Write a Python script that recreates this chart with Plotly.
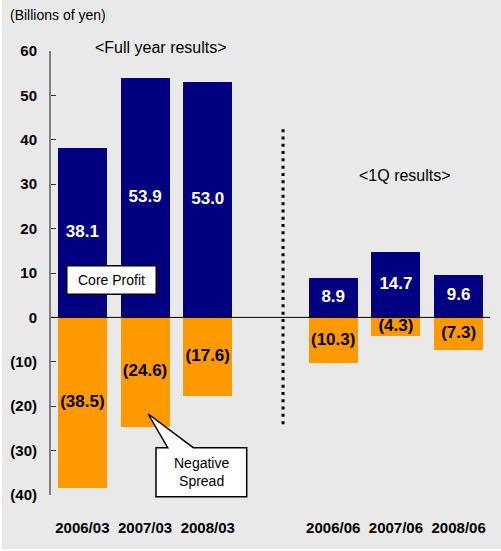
import plotly.graph_objects as go

# Categories and values (billions of yen)
periods = ["2006/03", "2007/03", "2008/03", "2006/06", "2007/06", "2008/06"]
x_pos = [0, 1, 2, 4, 5, 6]
core_profit = [38.1, 53.9, 53.0, 8.9, 14.7, 9.6]
negative_spread = [-38.5, -24.6, -17.6, -10.3, -4.3, -7.3]
y_ticks = [60, 50, 40, 30, 20, 10, 0, -10, -20, -30, -40]
y_tick_text = ["60", "50", "40", "30", "20", "10", "0", "(10)", "(20)", "(30)", "(40)"]

NAVY = "#000080"
ORANGE = "#FF9900"
BG = "#E9E9E9"
FONT = "Arial, Liberation Sans, sans-serif"

W, H = 501, 551
ML, MR, MT, MB = 51, 11, 51, 56
PW, PH = W - ML - MR, H - MT - MB


def px_x(px):
    return (px - ML) / PW


def px_y(py):
    return (H - MB - py) / PH


def fmt(v):
    return f"({abs(v):.1f})" if v < 0 else f"{v:.1f}"


fig = go.Figure()
fig.add_trace(go.Bar(x=x_pos, y=core_profit, width=0.78, marker_color=NAVY,
                     marker_line_width=0, name="Core Profit"))
fig.add_trace(go.Bar(x=x_pos, y=negative_spread, width=0.78, marker_color=ORANGE,
                     marker_line_width=0, name="Negative Spread"))

# value labels centred in each bar
fig.add_trace(go.Scatter(x=x_pos, y=[v / 2 for v in core_profit], mode="text",
                         text=[fmt(v) for v in core_profit],
                         textfont=dict(family=FONT, size=17, color="white", weight="bold"),
                         hoverinfo="skip"))
fig.add_trace(go.Scatter(x=x_pos, y=[v / 2 for v in negative_spread], mode="text",
                         text=[fmt(v) for v in negative_spread],
                         textfont=dict(family=FONT, size=17, color="black", weight="bold"),
                         hoverinfo="skip"))

shapes = [
    # page background
    dict(type="rect", xref="paper", yref="paper", layer="below",
         x0=px_x(2), x1=px_x(W), y0=px_y(549), y1=px_y(0),
         fillcolor=BG, line_width=0),
    # zero line
    dict(type="line", xref="x", yref="y", x0=-0.5, x1=6.5, y0=0, y1=0,
         line=dict(color="black", width=1)),
    # separator between annual and quarterly results
    dict(type="line", xref="x", yref="y", x0=3.2, x1=3.2, y0=42.4, y1=-24.5,
         line=dict(color="black", width=3, dash="3px,4.3px")),
]

# callout box for "Negative Spread"
pts = [(148.3, 414), (193.3, 447.7), (246.7, 447.7), (246.7, 496.7),
       (156, 496.7), (156, 447.7), (167.7, 447.7)]
path = "M " + " L ".join(f"{px_x(a):.4f},{px_y(b):.4f}" for a, b in pts) + " Z"
shapes.append(dict(type="path", xref="paper", yref="paper", path=path,
                   fillcolor="white", line=dict(color="black", width=1.5)))

annotations = [
    dict(text="(Billions of yen)", xref="paper", yref="paper", x=px_x(8), y=px_y(15),
         xanchor="left", yanchor="middle", showarrow=False,
         font=dict(family=FONT, size=14, color="black")),
    dict(text="&lt;Full year results&gt;", xref="paper", yref="paper", x=px_x(161), y=px_y(48),
         xanchor="center", yanchor="middle", showarrow=False,
         font=dict(family=FONT, size=16, color="black")),
    dict(text="&lt;1Q results&gt;", xref="paper", yref="paper", x=px_x(404.7), y=px_y(175),
         xanchor="center", yanchor="middle", showarrow=False,
         font=dict(family=FONT, size=16, color="black")),
    dict(text="Core Profit", xref="paper", yref="paper", x=px_x(111.3), y=px_y(280.3),
         xanchor="center", yanchor="middle", showarrow=False,
         bgcolor="white", bordercolor="black", borderwidth=1.5, borderpad=1,
         width=86, height=25,
         font=dict(family=FONT, size=14, color="black")),
    dict(text="Negative<br>Spread", xref="paper", yref="paper", x=px_x(201.3), y=px_y(472),
         xanchor="center", yanchor="middle", showarrow=False,
         font=dict(family=FONT, size=14, color="black")),
]

fig.update_layout(
    width=W, height=H,
    margin=dict(l=ML, r=MR, t=MT, b=MB, pad=0),
    paper_bgcolor="white", plot_bgcolor="rgba(0,0,0,0)",
    barmode="relative", bargap=0, showlegend=False,
    shapes=shapes, annotations=annotations,
    xaxis=dict(range=[-0.5, 6.5], tickvals=x_pos, ticktext=periods,
               showline=False, showgrid=False, zeroline=False, ticks="",
               ticklabelstandoff=22,
               tickfont=dict(family=FONT, size=15, color="black", weight="bold")),
    yaxis=dict(range=[-40, 60], tickvals=y_ticks, ticktext=y_tick_text,
               showline=True, linecolor="#808080", linewidth=2,
               ticks="inside", ticklen=5, tickwidth=1, tickcolor="#333333",
               showgrid=False, zeroline=False, ticklabelstandoff=9,
               tickfont=dict(family=FONT, size=15, color="black", weight="bold")),
)

fig.write_html("out.html")
